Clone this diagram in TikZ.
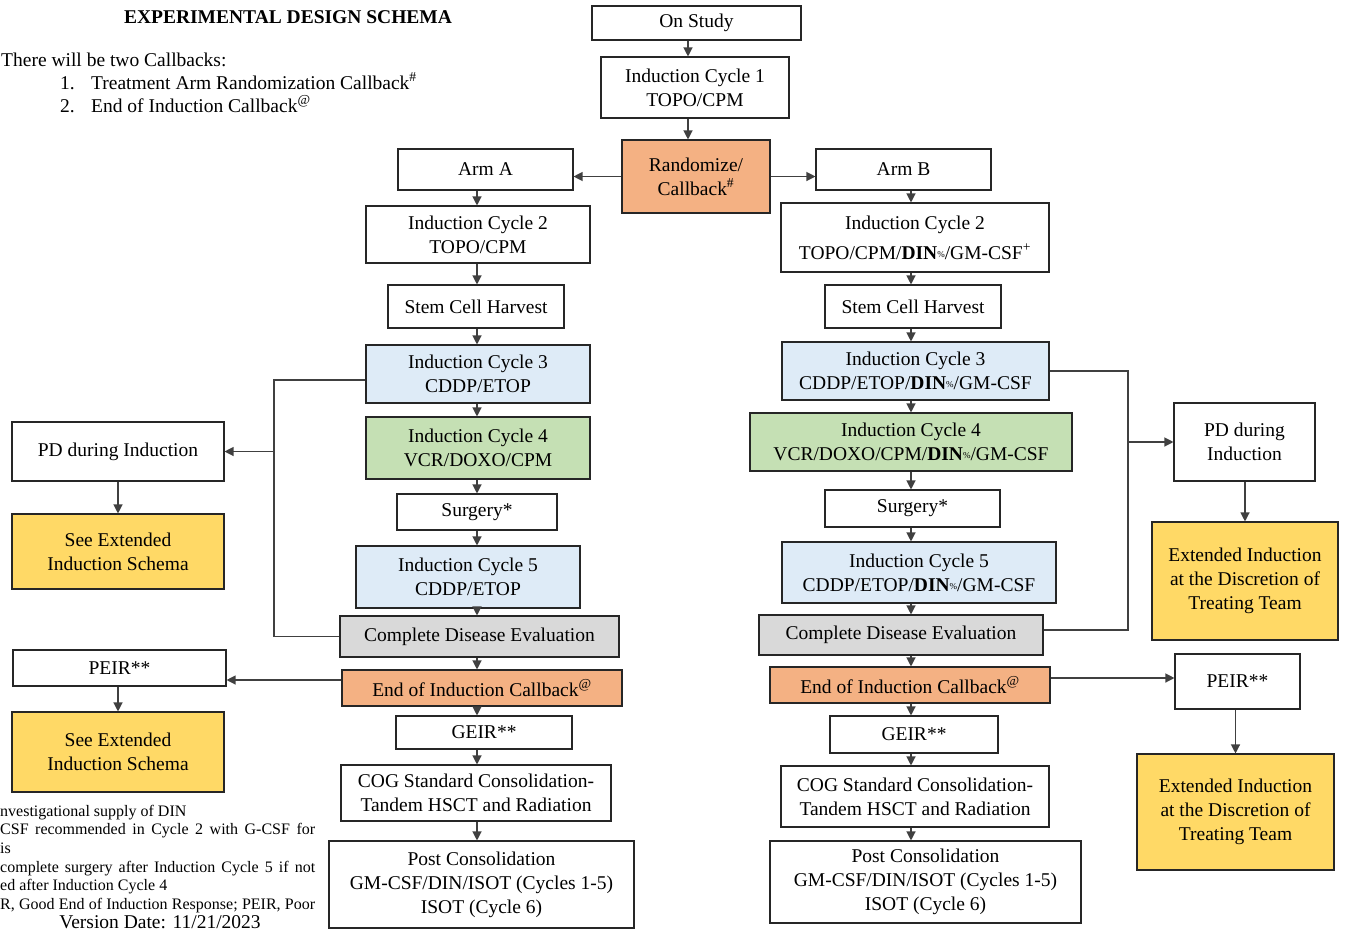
\documentclass[tikz,border=0pt]{standalone}
\usepackage{fontspec}
\setmainfont{Liberation Serif}
\usetikzlibrary{arrows.meta}
\definecolor{orng}{HTML}{F4B183}
\definecolor{lblue}{HTML}{DEEBF7}
\definecolor{lgreen}{HTML}{C5E0B4}
\definecolor{lgray}{HTML}{D9D9D9}
\definecolor{ylw}{HTML}{FFD966}
\newcommand{\dinp}{\textbf{DIN}\raisebox{2pt}{\fontsize{9}{9}\selectfont\%}}
\tikzset{
  box/.style={draw=black!85, line width=1.1pt, align=center, inner sep=0pt,
    font=\fontsize{19.5}{24}\selectfont, text=black},
  arr/.style={draw=black!75, line width=1.2pt, -{Triangle[length=9pt,width=9pt]}},
  ln/.style={draw=black!75, line width=1.2pt},
  txt/.style={inner sep=0pt, anchor=base west, font=\fontsize{19.5}{24}\selectfont},
  foot/.style={inner sep=0pt, anchor=base west, font=\fontsize{16}{18}\selectfont},
}
\begin{document}
\begin{tikzpicture}[x=1pt,y=-1pt]
\useasboundingbox (0,0) rectangle (1345,930);
% header text
\node[inner sep=0pt, anchor=base, font=\fontsize{19.5}{24}\selectfont\bfseries] (title) at (288,23) {EXPERIMENTAL DESIGN SCHEMA};
\node[txt] (intro) at (1,66) {There will be two Callbacks:};
\node[txt] (n1) at (60,89) {1.};
\node[txt] (i1) at (91,89) {Treatment Arm Randomization Callback\textsuperscript{\#}};
\node[txt] (n2) at (60,112) {2.};
\node[txt] (i2) at (91,112) {End of Induction Callback\textsuperscript{@}};
% footnotes
\node[foot] (f1) at (0,816) {nvestigational supply of DIN};
\node[foot] (f2) at (0,834) {\makebox[315pt][s]{CSF recommended in Cycle 2 with G-CSF for}};
\node[foot] (f3) at (0,853) {is};
\node[foot] (f4) at (0,872) {\makebox[315pt][s]{complete surgery after Induction Cycle 5 if not}};
\node[foot] (f5) at (0,890) {ed after Induction Cycle 4};
\node[foot] (f6) at (0,909) {\makebox[315pt][s]{R, Good End of Induction Response; PEIR, Poor}};
\node[inner sep=0pt, anchor=base, font=\fontsize{19.5}{24}\selectfont] (ver) at (160,928) {Version Date: 11/21/2023};
% center column
\node[box, minimum width=209pt, minimum height=34pt] (study) at (696.5,23) {On Study};
\node[box, minimum width=188pt, minimum height=61pt] (ic1) at (695,87.5) {Induction Cycle 1\\TOPO/CPM};
\node[box, fill=orng, minimum width=148pt, minimum height=73pt] (rand) at (696,176.5) {Randomize/\\Callback\textsuperscript{\#}};
% Arm A column
\node[box, minimum width=175pt, minimum height=41pt] (armA) at (485.5,169.5) {Arm A};
\node[box, minimum width=224pt, minimum height=57pt] (Lic2) at (478,234.5) {Induction Cycle 2\\TOPO/CPM};
\node[box, minimum width=176pt, minimum height=43pt] (Lstem) at (476,306.5) {Stem Cell Harvest};
\node[box, fill=lblue, minimum width=224pt, minimum height=58pt] (Lic3) at (478,374) {Induction Cycle 3\\CDDP/ETOP};
\node[box, fill=lgreen, minimum width=224pt, minimum height=62pt] (Lic4) at (478,448) {Induction Cycle 4\\VCR/DOXO/CPM};
\node[box, minimum width=160pt, minimum height=36pt] (Lsurg) at (477,512) {Surgery*};
\node[box, fill=lblue, minimum width=224pt, minimum height=62pt] (Lic5) at (468,577) {Induction Cycle 5\\CDDP/ETOP};
\node[box, fill=lgray, minimum width=279pt, minimum height=41pt] (Lcde) at (479.5,636.5) {Complete Disease Evaluation};
\node[box, fill=orng, minimum width=280pt, minimum height=36pt] (Leoi) at (482,688) {End of Induction Callback\textsuperscript{@}};
\node[box, minimum width=176pt, minimum height=33pt] (Lgeir) at (484,732.5) {GEIR**};
\node[box, minimum width=270pt, minimum height=56pt] (Lcog) at (476,793) {COG Standard Consolidation-\\Tandem HSCT and Radiation};
\node[box, minimum width=305pt, minimum height=87pt] (Lpost) at (481.5,884.5) {Post Consolidation\\GM-CSF/DIN/ISOT (Cycles 1-5)\\ISOT (Cycle 6)};
% Arm B column
\node[box, minimum width=175pt, minimum height=41pt] (armB) at (903.5,169.5) {Arm B};
\node[box, minimum width=268pt, minimum height=69pt] (Ric2) at (915,237.5) {Induction Cycle 2\\[6pt]TOPO/CPM/\dinp/GM-CSF\textsuperscript{+}};
\node[box, minimum width=176pt, minimum height=43pt] (Rstem) at (913,306.5) {Stem Cell Harvest};
\node[box, fill=lblue, minimum width=267pt, minimum height=58pt] (Ric3) at (915.5,371) {Induction Cycle 3\\CDDP/ETOP/\dinp/GM-CSF};
\node[box, fill=lgreen, minimum width=322pt, minimum height=58pt] (Ric4) at (911,442) {Induction Cycle 4\\VCR/DOXO/CPM/\dinp/GM-CSF};
\node[box, minimum width=175pt, minimum height=37pt] (Rsurg) at (912.5,508.5) {Surgery*};
\node[box, fill=lblue, minimum width=274pt, minimum height=61pt] (Ric5) at (919,572.5) {Induction Cycle 5\\CDDP/ETOP/\dinp/GM-CSF};
\node[box, fill=lgray, minimum width=284pt, minimum height=40pt] (Rcde) at (901,635) {Complete Disease Evaluation};
\node[box, fill=orng, minimum width=280pt, minimum height=36pt] (Reoi) at (910,685) {End of Induction Callback\textsuperscript{@}};
\node[box, minimum width=168pt, minimum height=37pt] (Rgeir) at (914,734.5) {GEIR**};
\node[box, minimum width=268pt, minimum height=61pt] (Rcog) at (915,796.5) {COG Standard Consolidation-\\Tandem HSCT and Radiation};
\node[box, minimum width=311pt, minimum height=82pt] (Rpost) at (925.5,882) {Post Consolidation\\GM-CSF/DIN/ISOT (Cycles 1-5)\\ISOT (Cycle 6)};
% left side boxes
\node[box, minimum width=212pt, minimum height=59pt] (Lpd) at (118,451.5) {PD during Induction};
\node[box, fill=ylw, minimum width=212pt, minimum height=75pt] (Lsee1) at (118,551.5) {See Extended\\Induction Schema};
\node[box, minimum width=213pt, minimum height=36pt] (Lpeir) at (119.5,668) {PEIR**};
\node[box, fill=ylw, minimum width=212pt, minimum height=80pt] (Lsee2) at (118,752) {See Extended\\Induction Schema};
% right side boxes
\node[box, minimum width=141pt, minimum height=78pt] (Rpd) at (1244.5,442) {PD during\\Induction};
\node[box, fill=ylw, minimum width=186pt, minimum height=118pt] (Rext1) at (1245,581) {Extended Induction\\at the Discretion of\\Treating Team};
\node[box, minimum width=125pt, minimum height=55pt] (Rpeir) at (1237.5,681.5) {PEIR**};
\node[box, fill=ylw, minimum width=197pt, minimum height=116pt] (Rext2) at (1235.5,812) {Extended Induction\\at the Discretion of\\Treating Team};
% column coordinates
\coordinate (TX) at (688,0);
\coordinate (LX) at (477,0);
\coordinate (RX) at (911,0);
% top arrows
\draw[arr] (study.south -| TX) -- (ic1.north -| TX);
\draw[arr] (ic1.south -| TX) -- (rand.north -| TX);
\draw[arr] (rand.west) -- (rand.west -| armA.east);
\draw[arr] (rand.east) -- (rand.east -| armB.west);
% left column arrows
\foreach \a/\b in {armA/Lic2, Lic2/Lstem, Lstem/Lic3, Lic3/Lic4, Lic4/Lsurg, Lsurg/Lic5, Lic5/Lcde, Lcde/Leoi, Leoi/Lgeir, Lgeir/Lcog, Lcog/Lpost}
  \draw[arr] (\a.south -| LX) -- (\b.north -| LX);
% right column arrows
\foreach \a/\b in {armB/Ric2, Ric2/Rstem, Rstem/Ric3, Ric3/Ric4, Ric4/Rsurg, Rsurg/Ric5, Ric5/Rcde, Rcde/Reoi, Reoi/Rgeir, Rgeir/Rcog, Rcog/Rpost}
  \draw[arr] (\a.south -| RX) -- (\b.north -| RX);
% left bracket
\coordinate (Lb1) at (274,380);
\draw[ln] (Lic3.west |- Lb1) -- (Lb1) -- (Lb1 |- Lcde.west) -- (Lcde.west);
\draw[arr] (Lb1 |- Lpd.east) -- (Lpd.east);
% right bracket
\coordinate (Rb1) at (1128,371);
\coordinate (Rb2) at (1128,630);
\draw[ln] (Ric3.east |- Rb1) -- (Rb1) -- (Rb2) -- (Rb2 -| Rcde.east);
\draw[arr] (Rb1 |- Rpd.west) -- (Rpd.west);
% side arrows
\draw[arr] (Lpd.south) -- (Lsee1.north);
\draw[arr] (Lpeir.south -| Lsee2.north) -- (Lsee2.north);
\draw[arr] (Rpd.south -| Rext1.north) -- (Rext1.north);
\draw[arr] (Rpeir.south -| Rext2.north) -- (Rext2.north);
\draw[arr] ([yshift=8pt]Leoi.west) coordinate (le) -- (le -| Lpeir.east);
\draw[arr] ([yshift=7pt]Reoi.east) coordinate (re) -- (re -| Rpeir.west);
\end{tikzpicture}
\end{document}
